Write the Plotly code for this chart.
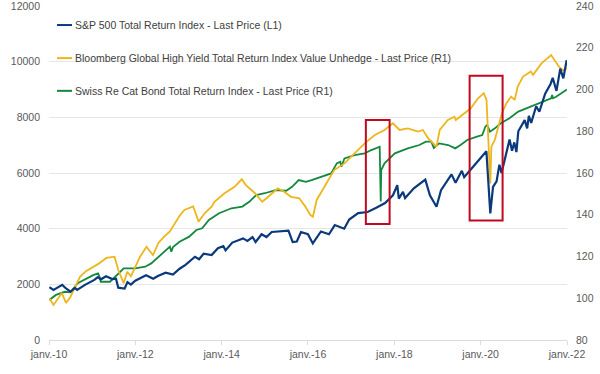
import plotly.graph_objects as go

# ---------------- data ----------------
spx_dates = ["2010-01-04","2010-02-08","2010-04-23","2010-05-25","2010-07-02","2010-08-09","2010-08-27",
    "2010-11-05","2011-01-20","2011-02-18","2011-03-16","2011-04-29","2011-06-20","2011-07-22","2011-08-10",
    "2011-10-03","2011-10-27","2011-11-25","2012-01-01","2012-04-01","2012-06-01","2012-07-10","2012-09-14",
    "2012-11-15","2013-01-10","2013-03-01","2013-05-20","2013-06-24","2013-08-01","2013-10-08","2013-11-30",
    "2014-01-15","2014-02-03","2014-04-01","2014-07-01","2014-08-07","2014-09-19","2014-10-15","2014-12-05",
    "2015-01-15","2015-03-01","2015-05-20","2015-07-20","2015-08-25","2015-09-29","2015-11-03","2016-01-01",
    "2016-02-11","2016-04-20","2016-06-27","2016-08-15","2016-11-03","2016-12-15","2017-03-01","2017-05-20",
    "2017-08-01","2017-10-15","2017-12-20","2018-01-26","2018-02-08","2018-03-15","2018-04-02","2018-06-15",
    "2018-09-20","2018-10-29","2018-12-24","2019-01-31","2019-04-30","2019-06-03","2019-07-26","2019-08-15",
    "2019-10-15","2019-12-31","2020-02-19","2020-03-23","2020-04-15","2020-05-15","2020-06-08","2020-06-26",
    "2020-08-01","2020-09-02","2020-09-23","2020-10-12","2020-10-30","2020-11-15","2021-01-08","2021-01-29",
    "2021-02-12","2021-03-04","2021-04-15","2021-05-12","2021-06-30","2021-08-15","2021-09-02","2021-10-04",
    "2021-11-05","2021-12-01","2021-12-29"]
spx_values = [1900,1800,1980,1850,1740,1870,1800,
    1990,2160,2260,2180,2290,2190,2200,1880,
    1850,2080,1990,2130,2330,2200,2300,2420,
    2350,2560,2700,2990,2900,3100,3050,3300,
    3370,3220,3500,3650,3560,3700,3520,3800,
    3700,3880,3920,3930,3520,3540,3880,3800,
    3470,3900,3800,4130,4000,4330,4560,4600,
    4750,4920,5200,5560,5080,5320,5100,5450,
    5760,5200,4790,5380,5950,5650,6080,5850,
    6150,6550,6780,4550,5500,5700,6300,6000,
    6700,7200,6800,7100,6750,7500,7900,7600,
    8050,7800,8400,8200,8850,9200,9420,8950,
    9750,9400,10050]

hy_dates = ["2010-01-04","2010-02-08","2010-04-20","2010-05-25","2010-06-30","2010-08-10","2010-09-20",
    "2010-11-10","2011-01-10","2011-03-01","2011-05-01","2011-07-10","2011-08-10","2011-09-25","2011-10-25",
    "2011-11-25","2011-12-20","2012-02-10","2012-04-05","2012-05-30","2012-07-15","2012-09-01","2012-10-20",
    "2012-11-15","2013-01-10","2013-02-20","2013-05-05","2013-06-20","2013-08-10","2013-10-10","2013-11-01",
    "2014-01-25","2014-04-20","2014-06-20","2014-07-25","2014-10-10","2014-12-10","2015-01-15","2015-04-20",
    "2015-06-15","2015-08-10","2015-10-20","2015-12-10","2016-01-20","2016-02-12","2016-03-15","2016-05-20",
    "2016-08-10","2016-11-05","2017-01-30","2017-04-25","2017-07-20","2017-10-10","2017-12-20","2018-02-15",
    "2018-04-25","2018-07-20","2018-08-30","2018-10-15","2018-12-24","2019-01-20","2019-03-30","2019-05-25",
    "2019-06-05","2019-08-30","2019-10-10","2019-12-10","2020-01-28","2020-02-20","2020-03-23","2020-04-01",
    "2020-04-30","2020-05-30","2020-06-25","2020-08-05","2020-09-15","2020-10-15","2020-11-10","2020-12-25",
    "2021-03-01","2021-03-20","2021-05-30","2021-08-20","2021-10-01","2021-10-25","2021-11-25","2021-12-31"]
hy_values = [100,96.8,102.5,97.8,100.5,105.5,110.3,
    113,115,116.7,119.3,119.9,113.5,107.2,112.7,
    110.5,113.5,119.9,124.7,120.7,126.5,129.5,132,
    134.5,139.5,142.3,144,136.7,140.7,144,146.2,
    150.3,153.4,157,154.2,150.3,146.2,147.9,152.6,
    151,148.6,147.9,143.9,140,139.1,147.1,153.4,
    161.4,164.6,169.4,174.2,178.2,180.6,183.8,180.6,
    181.4,179.8,180.6,176.6,172.6,180.6,185.4,187.0,
    185.4,189.4,191.0,195.8,198.2,195.0,155,172.6,
    175.8,182.2,187.8,193.3,196.6,195.0,201.4,206.2,
    208.6,207,212.5,216.5,213.3,210.9,209.3,210.1]

cat_dates = ["2010-01-04","2010-03-01","2010-05-15","2010-07-01","2010-09-01","2010-11-15","2011-01-10",
    "2011-02-20","2011-03-05","2011-03-15","2011-06-01","2011-07-15","2011-09-25","2012-01-01","2012-03-25",
    "2012-05-15","2012-08-20","2012-10-20","2012-11-01","2012-11-15","2013-01-10","2013-04-01","2013-06-01",
    "2013-07-20","2013-09-15","2013-12-10","2014-03-25","2014-06-25","2014-08-25","2014-10-20","2015-01-01",
    "2015-04-01","2015-07-01","2015-08-20","2015-10-15","2015-12-15","2016-02-01","2016-05-01","2016-07-15",
    "2016-09-01","2016-10-01","2016-10-10","2016-11-05","2017-01-30","2017-04-25","2017-06-20","2017-08-30",
    "2017-09-08","2017-09-12","2017-10-10","2018-01-05","2018-04-25","2018-08-01","2018-09-25","2018-11-10",
    "2018-12-01","2019-01-15","2019-04-01","2019-06-01","2019-07-15","2019-09-10","2019-12-01","2020-01-15",
    "2020-02-10","2020-02-25","2020-03-20","2020-05-01","2020-06-20","2020-09-01","2020-11-15","2021-03-01",
    "2021-05-20","2021-08-20","2021-08-28","2021-09-05","2021-10-01","2021-12-31"]
cat_values = [99.2,101.6,103.1,102.8,107.2,109.6,111.1,
    111.9,110.3,107.9,107.9,110.3,114.3,114.3,115.1,
    116.7,121.5,124.7,122.3,124.5,127.1,129.5,132.7,
    133.5,137.5,140.7,143.1,143.9,146.3,149.4,150.3,
    151.8,151.5,153.4,156.6,155.8,156.6,158.2,159.8,
    164.6,165.4,163.0,167.0,168.6,169.4,171.0,172.6,
    146.3,161.4,164.6,169.4,171.8,173.4,175.0,175.0,
    172.0,174.2,173.4,171.8,173.4,175.8,177.4,178.2,
    182.2,183.0,179.8,181.4,183.8,186.2,189.4,191.8,
    193.4,195.8,197.4,195.8,196.5,200.0]

series_names = ["S&P 500 Total Return Index - Last Price (L1)",
                "Bloomberg Global High Yield Total Return Index Value Unhedge - Last Price (R1)",
                "Swiss Re Cat Bond Total Return Index - Last Price (R1)"]
series_colors = ["#0b3a7c", "#edb61c", "#13883f"]

x_tick_vals = ["2010-01-01","2012-01-01","2014-01-01","2016-01-01","2018-01-01","2020-01-01","2022-01-01"]
x_tick_text = ["janv.-10","janv.-12","janv.-14","janv.-16","janv.-18","janv.-20","janv.-22"]

# highlighted windows (date range, left-axis range)
box_x0 = ["2017-05-05", "2019-09-30"]
box_x1 = ["2017-11-22", "2020-07-05"]
box_y0 = [4170, 4290]
box_y1 = [7900, 9490]

# ---------------- figure ----------------
fig = go.Figure()
fig.add_trace(go.Scatter(x=cat_dates, y=cat_values, mode="lines", name=series_names[2],
                         line=dict(color=series_colors[2], width=1.8), yaxis="y", showlegend=False))
fig.add_trace(go.Scatter(x=hy_dates, y=hy_values, mode="lines", name=series_names[1],
                         line=dict(color=series_colors[1], width=1.8), yaxis="y", showlegend=False))
fig.add_trace(go.Scatter(x=spx_dates, y=spx_values, mode="lines", name=series_names[0],
                         line=dict(color=series_colors[0], width=2.2), yaxis="y2", showlegend=False))

tick_font = dict(family="Liberation Sans, Arial, sans-serif", size=10.5, color="#595959")

shapes = []
annotations = []
for i in range(len(box_x0)):
    shapes.append(dict(type="rect", xref="x", yref="y2", x0=box_x0[i], x1=box_x1[i],
                       y0=box_y0[i], y1=box_y1[i], line=dict(color="#c0081f", width=2),
                       fillcolor="rgba(0,0,0,0)", layer="above"))

legend_y = [0.943, 0.844, 0.746]
for i, name in enumerate(series_names):
    shapes.append(dict(type="line", xref="paper", yref="paper", x0=0.0154, x1=0.0444,
                       y0=legend_y[i], y1=legend_y[i], line=dict(color=series_colors[i], width=2)))
    annotations.append(dict(xref="paper", yref="paper", x=0.046, y=legend_y[i], text=name,
                            showarrow=False, xanchor="left", yanchor="middle",
                            font=dict(family="Liberation Sans, Arial, sans-serif", size=10.5, color="#404040")))

fig.update_layout(
    width=600, height=374,
    margin=dict(l=49, r=33, t=6, b=34, autoexpand=False),
    paper_bgcolor="white", plot_bgcolor="white",
    showlegend=False,
    xaxis=dict(type="date", range=["2010-01-01", "2022-01-01"], tickvals=x_tick_vals, ticktext=x_tick_text,
               showgrid=False, showline=True, linecolor="#dcdcdc", linewidth=1, automargin=False,
               ticks="outside", ticklen=4, tickcolor="#dcdcdc", tickfont=tick_font, zeroline=False,
               ticklabeloverflow="allow"),
    yaxis=dict(range=[80, 240], dtick=20, side="right", showgrid=False, zeroline=False, automargin=False,
               showline=False, tickfont=tick_font, ticklabelstandoff=8, tickformat="d",
               ticklabeloverflow="allow"),
    yaxis2=dict(range=[0, 12000], dtick=2000, side="left", overlaying="y", showgrid=True, automargin=False,
                gridcolor="#e6e6e6", gridwidth=1, zeroline=False, showline=False,
                tickfont=tick_font, ticklabelstandoff=8, tickformat="d", ticklabeloverflow="allow"),
    shapes=shapes,
    annotations=annotations,
)

fig.write_html("out.html", config={"displayModeBar": False},
               post_script="document.body.style.margin='0';document.body.style.padding='0';")
